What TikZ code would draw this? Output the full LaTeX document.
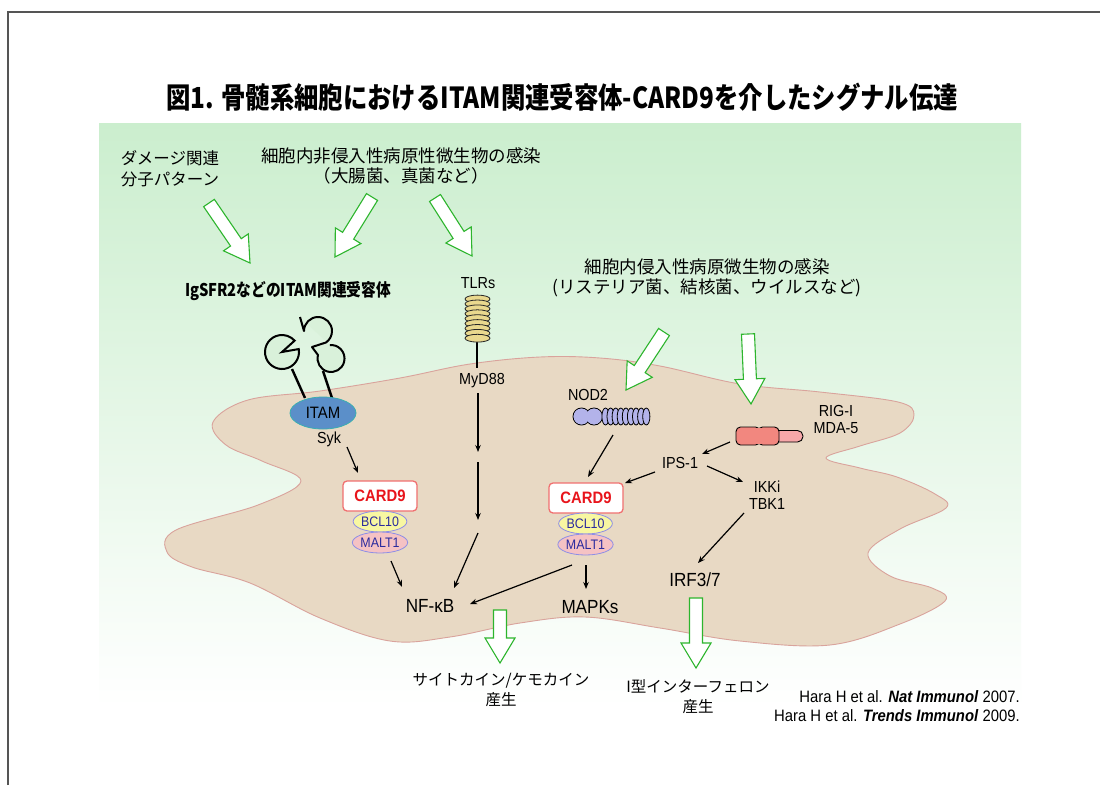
\documentclass[tikz,border=0pt]{standalone}
\usepackage{fontspec}
\setmainfont[FakeStretch=0.9]{Liberation Sans}
\newfontfamily\jp{Noto Sans CJK JP}
\newfontfamily\jpc[FakeStretch=0.84]{Noto Sans CJK JP}
\usetikzlibrary{calc,arrows.meta,shapes.geometric}

\definecolor{framegray}{HTML}{555555}
\definecolor{bgtop}{HTML}{CBEECE}
\definecolor{cellfill}{HTML}{E8D9C4}
\definecolor{celledge}{HTML}{D9A39C}
\definecolor{greenarrow}{HTML}{2DB52D}
\definecolor{itamfill}{HTML}{5B8FC9}
\definecolor{itamedge}{HTML}{3AAFB0}
\definecolor{cardred}{HTML}{E8141B}
\definecolor{cardedge}{HTML}{F07070}
\definecolor{bclfill}{HTML}{F8F7A2}
\definecolor{maltfill}{HTML}{F5C2C4}
\definecolor{protedge}{HTML}{8E8EE6}
\definecolor{prottext}{HTML}{2B2B9E}
\definecolor{tlrfill}{HTML}{E9D88E}
\definecolor{nodfill}{HTML}{B3B3EA}
\definecolor{rigfill}{HTML}{F2877F}
\definecolor{rigtail}{HTML}{F7A7A9}
\definecolor{recfill}{HTML}{D9F1DA}

\tikzset{
  lbl/.style={inner sep=0pt, font=\fontsize{16}{19}\selectfont, align=center},
  biglbl/.style={inner sep=0pt, font=\fontsize{19}{22}\selectfont},
  jtext/.style={inner sep=0pt, font=\jp\fontsize{17.5}{20}\selectfont, align=center},
  jsmall/.style={inner sep=0pt, font=\jp\fontsize{15.5}{20}\selectfont, align=center},
  cardbox/.style={draw=cardedge, line width=1.3pt, fill=white, rounded corners=4pt,
    minimum width=74pt, minimum height=30pt, inner sep=0pt, text=cardred,
    font=\bfseries\fontsize{16.5}{18}\selectfont},
  prot/.style={ellipse, draw=protedge, line width=0.8pt, minimum width=52pt,
    minimum height=21pt, inner sep=0pt, text=prottext, font=\fontsize{13.8}{15}\selectfont},
  arr/.style={-{Stealth[length=7pt,width=5.5pt]}, line width=1.2pt},
  stem/.style={line width=2.4pt},
  blockarrow/.style={draw=greenarrow, fill=white, line width=1.1pt, line join=miter},
}

% hollow green arrow: name, start, end
\newcommand\hollowarrow[3]{%
  \coordinate (#1-s) at #2;
  \coordinate (#1-e) at #3;
  \coordinate (#1-n) at ($(#1-e)!25pt!(#1-s)$);
  \filldraw[blockarrow]
    ($(#1-s)!6.5pt!90:(#1-e)$) -- ($(#1-n)!6.5pt!90:(#1-e)$) --
    ($(#1-n)!15pt!90:(#1-e)$) -- (#1-e) --
    ($(#1-n)!15pt!-90:(#1-e)$) -- ($(#1-n)!6.5pt!-90:(#1-e)$) --
    ($(#1-s)!6.5pt!-90:(#1-e)$) -- cycle;
}

\begin{document}
\begin{tikzpicture}[x=1pt, y=-1pt]
\useasboundingbox (0,0) rectangle (1100,785);
\fill[white] (0,0) rectangle (1100,785);

% slide frame
\draw[framegray, line width=1.6pt] (8,785) -- (8,12) -- (1100,12);

% title
\node[inner sep=0pt, font=\jpc\bfseries\fontsize{29}{32}\selectfont] (title) at (562,97)
  {図1. 骨髄系細胞におけるITAM関連受容体-CARD9を介したシグナル伝達};

% green backdrop
\shade[top color=bgtop, bottom color=white] (99,123) rectangle (1021,707);

% cell body
\filldraw[fill=cellfill, draw=celledge, line width=0.9pt]
  plot[smooth cycle, tension=0.6] coordinates {
  (213,422) (226,445) (262,461) (301,481) (258,505) (176,530) (167,552)
  (192,567) (250,583) (320,618) (390,641) (450,637) (520,623) (585,617)
  (660,628) (740,641) (830,645) (900,624) (945,601) (932,588) (890,576)
  (868,553) (900,529) (946,508) (935,494) (897,477) (860,468) (826,458)
  (860,446) (900,433) (914,415) (898,402) (820,392) (740,384) (660,366)
  (600,358) (540,357) (470,364) (400,378) (320,391) (248,400)};

% ---- ITAM-coupled receptors
\filldraw[fill=recfill, draw=black, line width=2pt]
  (282,352) -- +(-10:17) arc[start angle=-10, end angle=318, radius=17] -- cycle;
\draw[stem] (292,369) -- (305,398);
\filldraw[fill=recfill, draw=black, line width=2pt, line join=round]
  (300,317) -- (304,331) arc[start angle=180, end angle=415, radius=14]
  -- (312,347) -- (318,355) arc[start angle=195, end angle=-95, radius=13.5];
\draw[stem] (323,371) -- (332,398);

\node[ellipse, draw=itamedge, fill=itamfill, line width=0.8pt, minimum width=66pt,
  minimum height=32pt, inner sep=0pt, font=\fontsize{16.5}{18}\selectfont] (itam) at (323,413) {ITAM};
\node[lbl] (syk) at (329,439) {Syk};

% ---- TLR coil
\draw[stem] (477,336) -- (477,368);
\foreach \k in {0,...,8}
  \filldraw[fill=tlrfill, draw=black!85, line width=0.8pt] (477.5,{299+4.9*\k}) ellipse[x radius=12.5, y radius=3.9];
\node[lbl] (tlrs) at (478,283) {TLRs};
\node[lbl] (myd) at (482,381) {MyD88};

% ---- NOD2
\filldraw[fill=nodfill, draw=black, line width=0.9pt] (581.5,416.5) circle[radius=8.5];
\filldraw[fill=nodfill, draw=black, line width=0.9pt] (594,416.5) circle[radius=8.5];
\fill[nodfill] (581.5,416.5) circle[radius=7.9] (594,416.5) circle[radius=7.9];
\foreach \k in {0,...,8}
  \filldraw[fill=nodfill, draw=black, line width=0.8pt] ({605.5+5.1*\k},416.5) ellipse[x radius=3.6, y radius=8.5];
\node[lbl] (nod) at (588,395) {NOD2};

% ---- RIG-I / MDA-5
\filldraw[fill=rigtail, draw=black, line width=0.9pt, rounded corners=5.5pt] (772,430.5) rectangle (803,442);
\filldraw[fill=rigfill, draw=black, line width=0.9pt, rounded corners=4.5pt] (736,427) rectangle (760,445);
\filldraw[fill=rigfill, draw=black, line width=0.9pt, rounded corners=4.5pt] (758,427) rectangle (779,445);
\fill[rigfill] (755,427.6) rectangle (763,444.4);
\node[lbl] (rig) at (836,419) {RIG-I\\[-2pt]MDA-5};

% ---- signalling complexes
\node[cardbox] (card1) at (380,496) {CARD9};
\node[prot, fill=bclfill] (bcl1) at (380,521.5) {BCL10};
\node[prot, fill=maltfill] (malt1) at (380,542.5) {MALT1};

\node[cardbox] (card2) at (586,498) {CARD9};
\node[prot, fill=bclfill] (bcl2) at (585.5,523.5) {BCL10};
\node[prot, fill=maltfill] (malt2) at (585.5,544.5) {MALT1};

\node[lbl] (ips) at (680,463) {IPS-1};
\node[lbl] (ikk) at (767,495) {IKKi\\[-2pt]TBK1};
\node[biglbl] (nfkb) at (430,606) {NF-κB};
\node[biglbl] (mapk) at (590,607) {MAPKs};
\node[biglbl] (irf) at (695,580) {IRF3/7};

% ---- connectors
\coordinate (syk-o) at (347,447);   \coordinate (card1-i) at (358,473);
\coordinate (myd-o) at (478,393);   \coordinate (myd-a) at (478,452);
\coordinate (myd-b) at (478,462);   \coordinate (myd-c) at (478,520);
\coordinate (myd-d) at (478,533);   \coordinate (nfkb-i1) at (454,588);
\coordinate (malt1-o) at (391,561); \coordinate (nfkb-i2) at (402,587);
\coordinate (malt2-o) at (572,565); \coordinate (nfkb-i3) at (470,604);
\coordinate (malt2-d) at (586,565); \coordinate (mapk-i) at (586,589);
\coordinate (nod-o) at (613,435);   \coordinate (card2-i) at (588,477);
\coordinate (rig-o) at (730,442);   \coordinate (ips-i) at (702,454);
\coordinate (ips-o1) at (655,472);  \coordinate (card2-i2) at (625,483);
\coordinate (ips-o2) at (707,466);  \coordinate (ikk-i) at (743,482);
\coordinate (ikk-o) at (744,513);   \coordinate (irf-i) at (698,563);

\draw[arr] (syk-o) -- (card1-i);
\draw[arr] (myd-o) -- (myd-a);
\draw[arr] (myd-b) -- (myd-c);
\draw[arr] (myd-d) -- (nfkb-i1);
\draw[arr] (malt1-o) -- (nfkb-i2);
\draw[arr] (malt2-o) -- (nfkb-i3);
\draw[arr] (malt2-d) -- (mapk-i);
\draw[arr] (nod-o) -- (card2-i);
\draw[arr] (rig-o) -- (ips-i);
\draw[arr] (ips-o1) -- (card2-i2);
\draw[arr] (ips-o2) -- (ikk-i);
\draw[arr] (ikk-o) -- (irf-i);

% ---- hollow green arrows
\hollowarrow{ga1}{(209,203)}{(250,263)}
\hollowarrow{ga2}{(372,197)}{(335,257)}
\hollowarrow{ga3}{(435,198)}{(472,256)}
\hollowarrow{ga4}{(664,332)}{(626,390)}
\hollowarrow{ga5}{(748,334)}{(751,404)}
\hollowarrow{ga6}{(500,610)}{(500,663)}
\hollowarrow{ga7}{(696,598)}{(696,668)}

% ---- stimuli and outcomes
\node[jtext, align=left, font=\jp\fontsize{16.5}{21}\selectfont] (damp) at (170,169) {ダメージ関連\\分子パターン};
\node[jtext] (noninv) at (401,166) {細胞内非侵入性病原性微生物の感染\\（大腸菌、真菌など）};
\node[jtext] (inv) at (707,278) {細胞内侵入性病原微生物の感染\\(リステリア菌、結核菌、ウイルスなど)};
\node[inner sep=0pt, font=\jpc\bfseries\fontsize{17.5}{20}\selectfont] (igsf) at (288,291) {IgSFR2などのITAM関連受容体};
\node[jsmall] (cyto) at (501,690) {サイトカイン/ケモカイン\\産生};
\node[jsmall] (ifn) at (698,697) {I型インターフェロン\\産生};

% ---- references
\node[inner sep=0pt, anchor=east, font=\fontsize{16.5}{18}\selectfont] (ref1) at (1020,697)
  {Hara H et al. \textbf{\textit{Nat Immunol}} 2007.};
\node[inner sep=0pt, anchor=east, font=\fontsize{16.5}{18}\selectfont] (ref2) at (1020,716)
  {Hara H et al. \textbf{\textit{Trends Immunol}} 2009.};
\end{tikzpicture}
\end{document}
